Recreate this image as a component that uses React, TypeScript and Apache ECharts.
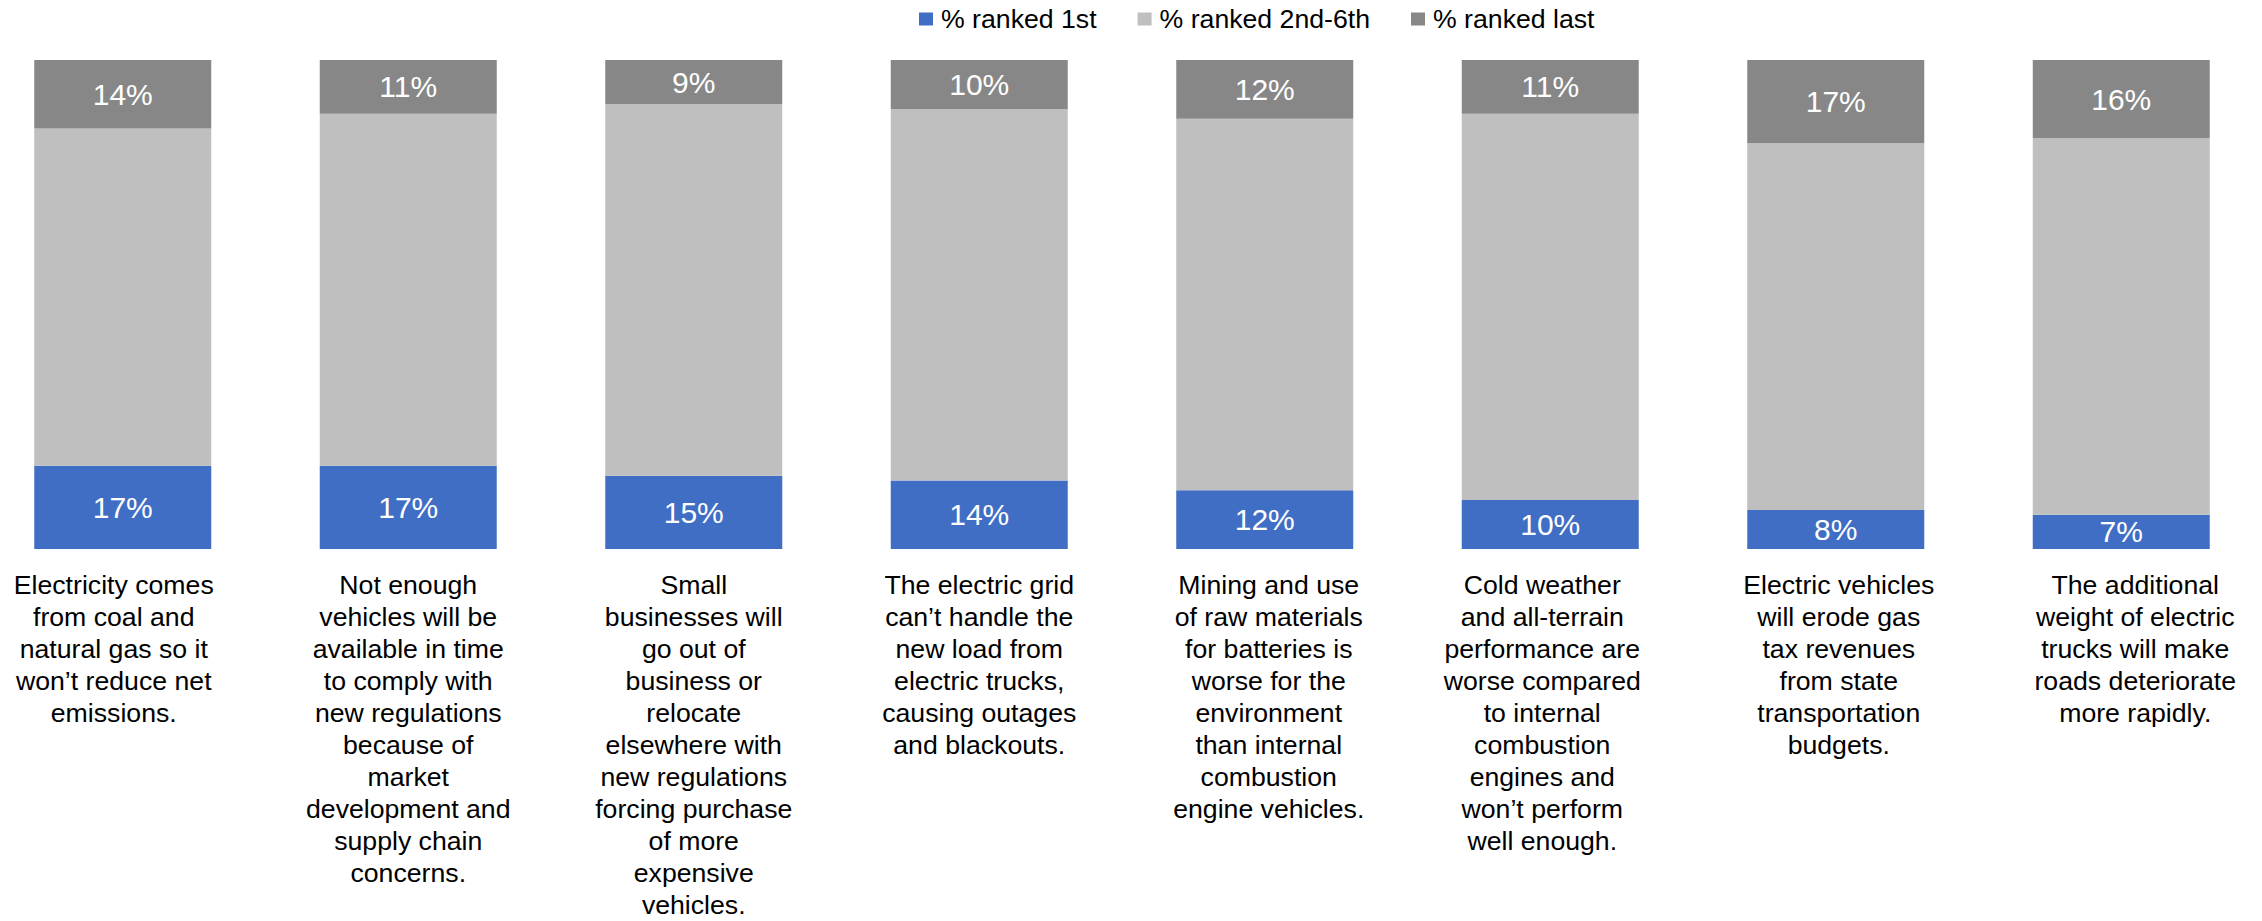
import React, { useEffect, useRef } from "react";
import * as echarts from "echarts";

const categories = [
  "Electricity comes\nfrom coal and\nnatural gas so it\nwon’t reduce net\nemissions.",
  "Not enough\nvehicles will be\navailable in time\nto comply with\nnew regulations\nbecause of\nmarket\ndevelopment and\nsupply chain\nconcerns.",
  "Small\nbusinesses will\ngo out of\nbusiness or\nrelocate\nelsewhere with\nnew regulations\nforcing purchase\nof more\nexpensive\nvehicles.",
  "The electric grid\ncan’t handle the\nnew load from\nelectric trucks,\ncausing outages\nand blackouts.",
  "Mining and use\nof raw materials\nfor batteries is\nworse for the\nenvironment\nthan internal\ncombustion\nengine vehicles.",
  "Cold weather\nand all-terrain\nperformance are\nworse compared\nto internal\ncombustion\nengines and\nwon’t perform\nwell enough.",
  "Electric vehicles\nwill erode gas\ntax revenues\nfrom state\ntransportation\nbudgets.",
  "The additional\nweight of electric\ntrucks will make\nroads deteriorate\nmore rapidly.",
];

const rankedFirst = [17, 17, 15, 14, 12, 10, 8, 7];
const rankedMiddle = [69, 72, 76, 76, 76, 79, 75, 77];
const rankedLast = [14, 11, 9, 10, 12, 11, 17, 16];

const seriesNames = ["% ranked 1st", "% ranked 2nd-6th", "% ranked last"];
const colors = ["#3F6EC4", "#BFBFBF", "#878787"];

const FONT = "Liberation Sans, Arial, sans-serif";

export default function App() {
  const ref = useRef<HTMLDivElement>(null);

  useEffect(() => {
    if (!ref.current) return;
    const chart = echarts.init(ref.current, undefined, { renderer: "svg" });
    // small horizontal nudges of category labels (px), as in the original layout
    const labelShift = [-9, 0, 0, 0, 4, -8, 3, 14];
    const axisData = categories.map((c, i) => {
      const d = labelShift[i];
      return {
        value: c,
        textStyle: {
          padding: d >= 0 ? [0, 0, 0, 2 * d] : [0, -2 * d, 0, 0],
        },
      };
    });
    const dataLabel = {
      show: true,
      position: "inside",
      color: "#FFFFFF",
      fontSize: 30,
      fontFamily: FONT,
      formatter: (p: any) => `${p.value}%`,
    };
    chart.setOption({
      animation: false,
      backgroundColor: "#FFFFFF",
      textStyle: { fontFamily: FONT },
      legend: {
        left: 939,
        top: 5,
        padding: 0,
        itemWidth: 14,
        itemHeight: 13,
        itemGap: 41,
        icon: "rect",
        textStyle: {
          color: "#000000",
          fontSize: 26.67,
          fontFamily: FONT,
          lineHeight: 28,
          padding: [0, 0, 0, 3],
        },
        data: seriesNames,
      },
      grid: {
        left: 0,
        right: 0,
        top: 60,
        bottom: 368.3,
        containLabel: false,
      },
      xAxis: {
        type: "category",
        data: axisData,
        axisLine: { show: false },
        axisTick: { show: false },
        axisLabel: {
          interval: 0,
          color: "#000000",
          fontSize: 26.67,
          fontFamily: FONT,
          lineHeight: 32,
          margin: 20,
          align: "center",
        },
      },
      yAxis: {
        type: "value",
        min: 0,
        max: 100,
        show: false,
        splitLine: { show: false },
      },
      series: [
        {
          name: seriesNames[0],
          type: "bar",
          stack: "total",
          barWidth: 177,
          data: rankedFirst,
          itemStyle: { color: colors[0] },
          label: dataLabel,
        },
        {
          name: seriesNames[1],
          type: "bar",
          stack: "total",
          barWidth: 177,
          data: rankedMiddle,
          itemStyle: { color: colors[1] },
          label: { show: false },
        },
        {
          name: seriesNames[2],
          type: "bar",
          stack: "total",
          barWidth: 177,
          data: rankedLast,
          itemStyle: { color: colors[2] },
          label: dataLabel,
        },
      ],
    });
    return () => chart.dispose();
  }, []);

  return (
    <div
      ref={ref}
      style={{ position: "absolute", left: -20, top: 0, width: 2284, height: 921 }}
    />
  );
}
